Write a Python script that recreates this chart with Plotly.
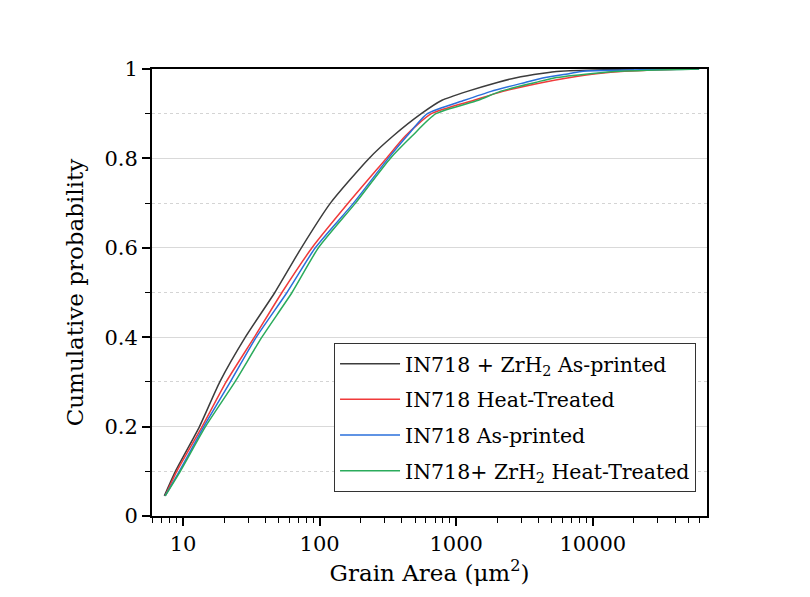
import plotly.graph_objects as go

# Cumulative probability levels (shared)
prob = [0.045, 0.1, 0.2, 0.3, 0.4, 0.5, 0.6, 0.7, 0.8, 0.85, 0.9, 0.93, 0.95, 0.97, 0.98, 0.99, 0.995, 1.0]

# Grain area (um^2) at each probability level, per sample
zr_printed = [7.3, 8.8, 13.2, 18.6, 28.6, 47.0, 73.5, 120, 230, 345, 555, 787, 1205, 2000, 2700, 4200, 5800, 20000]
in_heat = [7.4, 9.0, 13.8, 20.7, 33.3, 53, 88, 162, 308, 424, 658, 1350, 2200, 4300, 6500, 11000, 17000, 45000]
in_printed = [7.4, 9.4, 14.2, 22.2, 34.4, 57.7, 93, 177, 318, 436, 615, 1150, 1800, 3200, 4300, 6800, 8500, 60000]
zr_heat = [7.4, 9.55, 14.6, 24.0, 37.8, 62.8, 98, 183, 329, 475, 710, 1450, 2100, 3800, 5200, 10000, 16000, 60000]

series_names = [
    "IN718 + ZrH<sub>2</sub> As-printed",
    "IN718 Heat-Treated",
    "IN718 As-printed",
    "IN718+ ZrH<sub>2</sub> Heat-Treated",
]
series_data = [zr_printed, in_heat, in_printed, zr_heat]
colors = ["#3c3c3c", "#f03a3a", "#2a6fdb", "#2bab5c"]

x_tickvals = [10, 100, 1000, 10000]
x_ticktext = ["10", "100", "1000", "10000"]
y_tickvals = [0, 0.2, 0.4, 0.6, 0.8, 1.0]
y_ticktext = ["0", "0.2", "0.4", "0.6", "0.8", "1"]

font_family = "DejaVu Serif"

fig = go.Figure()
for i, (name, xs, c) in enumerate(zip(series_names, series_data, colors)):
    fig.add_trace(go.Scatter(x=xs, y=prob, mode="lines", name=name,
                             legendgroup=f"g{i}",
                             line=dict(color=c, width=1.5, shape="spline", smoothing=0.6)))

fig.update_layout(
    width=810, height=597,
    margin=dict(l=152, r=103, t=69, b=81),
    paper_bgcolor="white", plot_bgcolor="white",
    font=dict(family=font_family, color="black", size=21),
    showlegend=True,
    legend=dict(x=0.328, y=0.054, xanchor="left", yanchor="bottom",
                bordercolor="#333333", borderwidth=1, bgcolor="white",
                font=dict(family=font_family, size=20.5, color="black"),
                itemwidth=60, tracegroupgap=6, traceorder="grouped"),
)

fig.update_xaxes(
    type="log", range=[0.773, 4.836],
    tickvals=x_tickvals, ticktext=x_ticktext,
    ticks="outside", ticklen=8, tickwidth=1.5, tickcolor="black",
    showline=True, linecolor="black", linewidth=2, mirror=True,
    showgrid=False, zeroline=False,
    tickfont=dict(size=21),
    minor=dict(ticks="outside", ticklen=5, tickwidth=1.2, tickcolor="black",
               dtick="D1", showgrid=False),
    title=dict(text="Grain Area (μm<sup>2</sup>)", font=dict(size=23), standoff=8),
)
fig.update_yaxes(
    range=[0, 1],
    tickvals=y_tickvals, ticktext=y_ticktext,
    ticks="outside", ticklen=8, tickwidth=1.5, tickcolor="black",
    showline=True, linecolor="black", linewidth=2, mirror=True,
    showgrid=True, gridcolor="#d9d9d9", gridwidth=1, zeroline=False,
    tickfont=dict(size=21),
    minor=dict(ticks="outside", ticklen=5, tickwidth=1.2, tickcolor="black",
               dtick=0.1, tick0=0, showgrid=True, gridcolor="#d4d4d4",
               griddash="dot", gridwidth=1),
    title=dict(text="Cumulative probability", font=dict(size=23), standoff=14),
)

fig.write_html("out.html")
